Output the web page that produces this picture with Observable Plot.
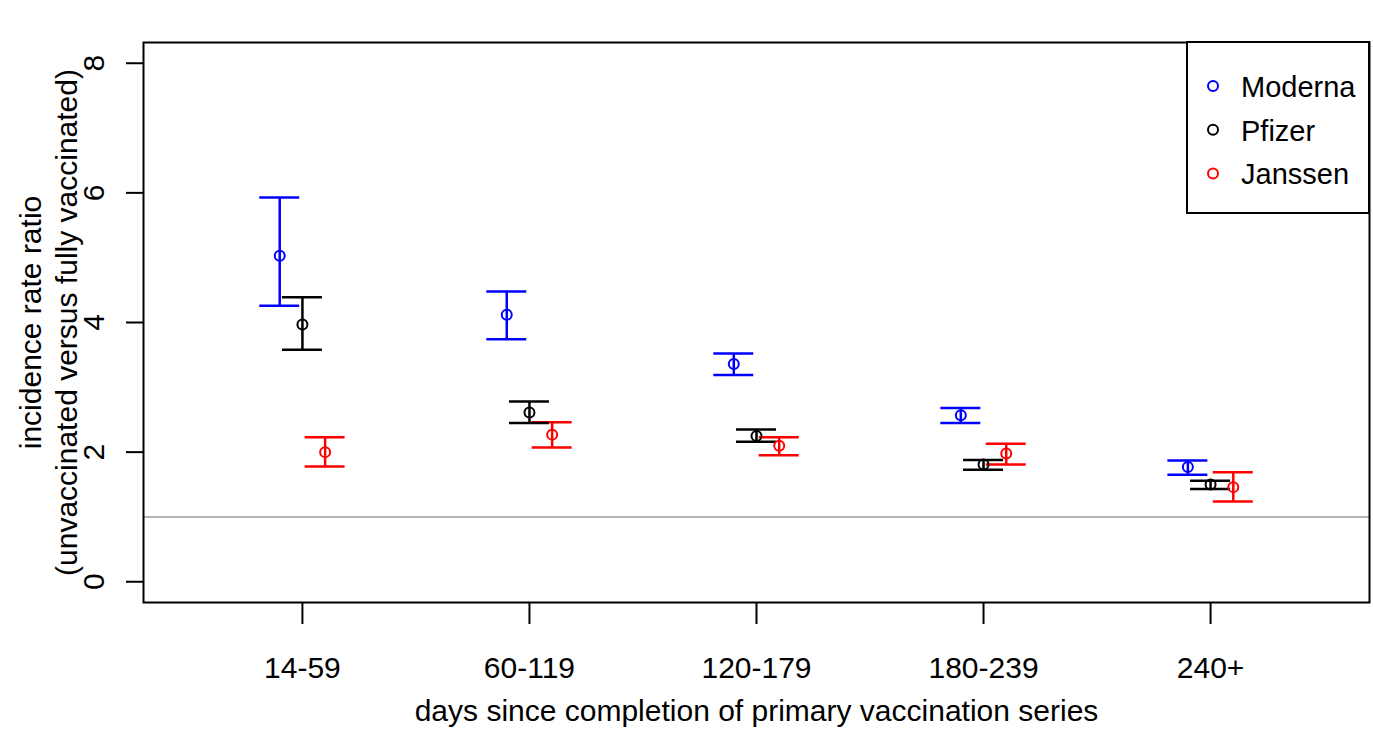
<!DOCTYPE html>
<html>
<head>
<meta charset="utf-8">
<script src="https://cdn.jsdelivr.net/npm/d3@7"></script>
<script src="https://cdn.jsdelivr.net/npm/@observablehq/plot@0.6"></script>
<style>
  html, body { margin: 0; padding: 0; background: #fff; }
  #chart svg { display: block; }
</style>
</head>
<body>
<div id="chart"></div>
<script>
// ---- data ----
const categories = ["14-59", "60-119", "120-179", "180-239", "240+"];
const series = ["Moderna", "Pfizer", "Janssen"];

const modernaEst = [5.03, 4.12, 3.36, 2.57, 1.77];
const modernaLo  = [4.26, 3.74, 3.19, 2.45, 1.65];
const modernaHi  = [5.93, 4.48, 3.52, 2.68, 1.87];

const pfizerEst = [3.97, 2.61, 2.25, 1.81, 1.50];
const pfizerLo  = [3.58, 2.45, 2.16, 1.73, 1.43];
const pfizerHi  = [4.39, 2.78, 2.35, 1.88, 1.56];

const janssenEst = [2.00, 2.27, 2.10, 1.98, 1.46];
const janssenLo  = [1.78, 2.07, 1.95, 1.81, 1.24];
const janssenHi  = [2.23, 2.46, 2.23, 2.13, 1.69];

const yTicks = [0, 2, 4, 6, 8];
const referenceLine = [1];
const yTitle1 = "incidence rate ratio";
const yTitle2 = "(unvaccinated versus fully vaccinated)";
const xTitle = "days since completion of primary vaccination series";

// ---- build table ----
const estimates = [modernaEst, pfizerEst, janssenEst];
const lows = [modernaLo, pfizerLo, janssenLo];
const highs = [modernaHi, pfizerHi, janssenHi];
const rows = [];
series.forEach((s, si) => {
  categories.forEach((c, ci) => {
    rows.push({series: s, si, category: c, ci, est: estimates[si][ci], lo: lows[si][ci], hi: highs[si][ci]});
  });
});

const dodge = 0.1;     // horizontal offset between series (x units)
const capHalf = 0.088; // cap half width (x units)
const xpos = d => d.ci + 1 + (d.si - 1) * dodge;

const font = "'Liberation Sans', Arial, Helvetica, sans-serif";
const colors = ["#0000ff", "#000000", "#ff0000"];

const chart = Plot.plot({
  width: 1373,
  height: 729,
  marginLeft: 143,
  marginRight: 4,
  marginTop: 42,
  marginBottom: 127,
  style: {fontFamily: font, fontSize: "30px", color: "#000", background: "#fff"},
  x: {type: "linear", domain: [0.3, 5.7]},
  y: {domain: [-0.32, 8.32]},
  color: {domain: series, range: colors},
  marks: [
    Plot.ruleY(referenceLine, {stroke: "#b4b4b4", strokeWidth: 2}),
    Plot.axisX({ticks: [1, 2, 3, 4, 5], tickFormat: i => categories[i - 1], tickSize: 22, tickPadding: 32, fontSize: 30, label: null, stroke: "#000", strokeWidth: 2}),
    Plot.axisY({ticks: yTicks, tickSize: 17, tickPadding: 23, tickRotate: -90, fontSize: 30, label: null, stroke: "#000", strokeWidth: 2}),
    Plot.ruleX(rows, {x: xpos, y1: "lo", y2: "hi", stroke: "series", strokeWidth: 2.5}),
    Plot.ruleY(rows, {y: "hi", x1: d => xpos(d) - capHalf, x2: d => xpos(d) + capHalf, stroke: "series", strokeWidth: 2.5}),
    Plot.ruleY(rows, {y: "lo", x1: d => xpos(d) - capHalf, x2: d => xpos(d) + capHalf, stroke: "series", strokeWidth: 2.5}),
    Plot.dot(rows, {x: xpos, y: "est", stroke: "series", r: 5, strokeWidth: 2, fill: "none"}),
    Plot.text([yTitle1], {text: d => d, frameAnchor: "left", dx: -103, rotate: -90, textAnchor: "middle", lineAnchor: "bottom", fontSize: 30}),
    Plot.text([yTitle2], {text: d => d, frameAnchor: "left", dx: -67, rotate: -90, textAnchor: "middle", lineAnchor: "bottom", fontSize: 30}),
    Plot.text([xTitle], {text: d => d, frameAnchor: "bottom", dy: 118, textAnchor: "middle", lineAnchor: "bottom", fontSize: 30}),
    Plot.frame({stroke: "#000", strokeWidth: 2})
  ]
});

// ---- legend (top-right, inside the frame, like R's legend("topright")) ----
const svg = d3.select(chart);
const lg = svg.append("g").attr("font-family", font).attr("font-size", 29).attr("text-anchor", "start");
lg.append("rect")
  .attr("x", 1187).attr("y", 42).attr("width", 182).attr("height", 171)
  .attr("fill", "#fff").attr("stroke", "#000").attr("stroke-width", 2);
series.forEach((s, i) => {
  const cy = 86 + i * 43.7;
  lg.append("circle").attr("cx", 1213).attr("cy", cy).attr("r", 5)
    .attr("fill", "none").attr("stroke", colors[i]).attr("stroke-width", 2);
  lg.append("text").attr("x", 1241).attr("y", cy + 11).attr("fill", "#000")
    .attr("text-anchor", "start").text(s);
});

document.getElementById("chart").appendChild(chart);
</script>
</body>
</html>
